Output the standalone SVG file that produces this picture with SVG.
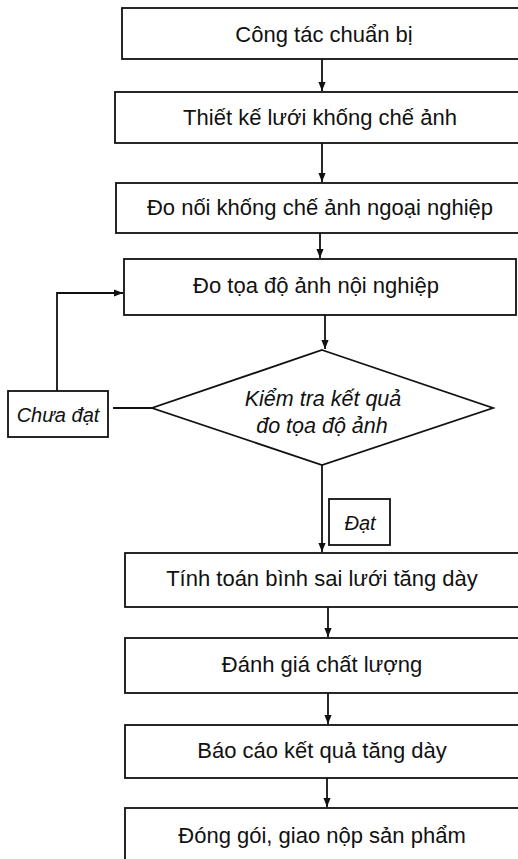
<svg xmlns="http://www.w3.org/2000/svg" width="518" height="859" viewBox="0 0 518 859">
<style>
.box{fill:#fff;stroke:#111;stroke-width:1.8}
.t{font-family:"Liberation Sans",Arial,sans-serif;font-size:22px;fill:#111;text-anchor:middle}
.i{font-family:"Liberation Sans",Arial,sans-serif;font-size:20px;font-style:italic;fill:#111;text-anchor:middle}
.c{fill:none;stroke:#111;stroke-width:1.8}
</style>
<defs>
<marker id="ah" viewBox="0 0 10 10" refX="10" refY="5" markerWidth="9" markerHeight="9" markerUnits="userSpaceOnUse" orient="auto">
<path d="M0,1 L10,5 L0,9 Z" fill="#111"/>
</marker>
</defs>
<rect width="518" height="859" fill="#fff"/>
<g id="connectors">
<line class="c" x1="322" y1="59" x2="322" y2="91" marker-end="url(#ah)"/>
<line class="c" x1="322" y1="143" x2="322" y2="182" marker-end="url(#ah)"/>
<line class="c" x1="320" y1="233" x2="320" y2="258" marker-end="url(#ah)"/>
<line class="c" x1="325" y1="315" x2="325" y2="349" marker-end="url(#ah)"/>
<line class="c" x1="322" y1="465" x2="322" y2="552" marker-end="url(#ah)"/>
<line class="c" x1="328" y1="607" x2="328" y2="637" marker-end="url(#ah)"/>
<line class="c" x1="328" y1="693" x2="328" y2="724" marker-end="url(#ah)"/>
<line class="c" x1="327" y1="778" x2="327" y2="807" marker-end="url(#ah)"/>
<line class="c" x1="152" y1="408" x2="113" y2="408"/>
<polyline class="c" points="57,391 57,293 123,293" marker-end="url(#ah)"/>
</g>
<g id="n1"><rect class="box" x="122" y="8" width="400" height="51"/><text class="t" x="324" y="42">Công tác chuẩn bị</text></g>
<g id="n2"><rect class="box" x="115" y="92" width="407" height="51"/><text class="t" x="320" y="125">Thiết kế lưới khống chế ảnh</text></g>
<g id="n3"><rect class="box" x="116" y="183" width="406" height="50"/><text class="t" x="320" y="215">Đo nối khống chế ảnh ngoại nghiệp</text></g>
<g id="n4"><rect class="box" x="124" y="259" width="392" height="56"/><text class="t" x="316" y="293">Đo tọa độ ảnh nội nghiệp</text></g>
<g id="n5"><polygon class="box" points="322,350 493,408 322,465 152,408"/><text class="i" style="font-size:21.5px" x="323" y="406">Kiểm tra kết quả</text><text class="i" style="font-size:21.5px" x="322" y="433">đo tọa độ ảnh</text></g>
<g id="n6"><rect class="box" x="8" y="391" width="100" height="46"/><text class="i" x="58" y="422">Chưa đạt</text></g>
<g id="n7"><rect class="box" x="329" y="499" width="61" height="46"/><text class="i" x="360" y="530">Đạt</text></g>
<g id="n8"><rect class="box" x="125" y="553" width="397" height="54"/><text class="t" x="322" y="586">Tính toán bình sai lưới tăng dày</text></g>
<g id="n9"><rect class="box" x="125" y="638" width="397" height="55"/><text class="t" x="322" y="672">Đánh giá chất lượng</text></g>
<g id="n10"><rect class="box" x="125" y="725" width="397" height="53"/><text class="t" x="322" y="758">Báo cáo kết quả tăng dày</text></g>
<g id="n11"><rect class="box" x="125" y="808" width="397" height="60"/><text class="t" x="322" y="843">Đóng gói, giao nộp sản phẩm</text></g>
</svg>
